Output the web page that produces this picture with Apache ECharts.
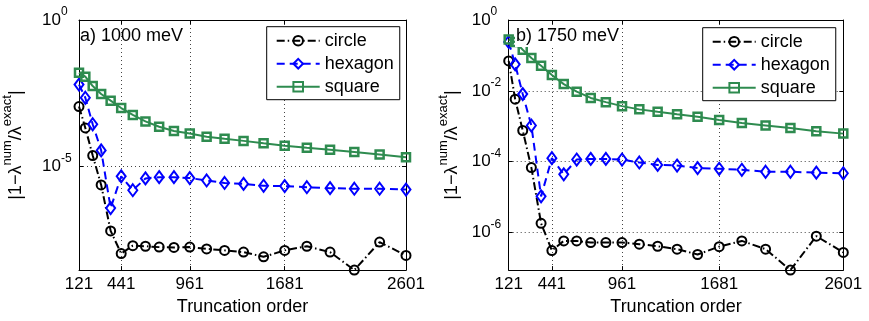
<!DOCTYPE html>
<html><head><meta charset="utf-8">
<script src="https://cdn.jsdelivr.net/npm/echarts@6/dist/echarts.min.js"></script>
<style>html,body{margin:0;padding:0;background:#fff}#c{width:869px;height:321px}</style>
</head><body><div id="c"></div>
<script>
// ---- data ----
const truncationOrder = [121,169,225,289,361,441,529,625,729,841,961,1089,1225,1369,1521,1681,1849,2025,2209,2401,2601];
const xTicks = [121,441,961,1681,2601];
const yTicksA = [1e-5, 1];
const yTicksB = [1e-6, 1e-4, 1e-2, 1];
const seriesNames = ['circle','hexagon','square'];
const titleA = 'a) 1000 meV';
const titleB = 'b) 1750 meV';
const xName = 'Truncation order';

// panel a) 1000 meV
const circleA  = [1.12e-3,2.1e-4,2.4e-5,2.4e-6,6.5e-8,1.1e-8,2.04e-8,1.95e-8,1.82e-8,1.78e-8,1.82e-8,1.58e-8,1.41e-8,1.23e-8,8.5e-9,1.41e-8,1.95e-8,1.23e-8,3.0e-9,2.7e-8,9.5e-9];
const hexagonA = [6.3e-3,2.24e-3,2.8e-4,3.6e-5,3.9e-7,4.7e-6,1.58e-6,4.0e-6,4.4e-6,4.4e-6,4.1e-6,3.4e-6,2.8e-6,2.6e-6,2.24e-6,2.19e-6,2.0e-6,1.86e-6,1.78e-6,1.78e-6,1.66e-6];
const squareA  = [1.58e-2,1.17e-2,5.6e-3,3.0e-3,1.78e-3,1.0e-3,5.8e-4,3.5e-4,2.3e-4,1.66e-4,1.35e-4,1.05e-4,8.9e-5,7.6e-5,6.3e-5,5.2e-5,4.4e-5,3.8e-5,3.2e-5,2.6e-5,2.1e-5];
// panel b) 1750 meV
const circleB  = [7.0e-2,5.8e-3,7.6e-4,6.8e-5,1.82e-6,3.1e-7,5.8e-7,5.8e-7,5.2e-7,5.2e-7,5.2e-7,4.7e-7,4.1e-7,3.4e-7,2.4e-7,4.0e-7,5.8e-7,3.4e-7,8.7e-8,7.9e-7,2.75e-7];
const hexagonB = [2.4e-1,5.6e-2,8.1e-3,1.05e-3,1.05e-5,1.26e-4,4.4e-5,1.15e-4,1.2e-4,1.2e-4,1.15e-4,9.5e-5,8.1e-5,7.8e-5,6.6e-5,6.3e-5,5.9e-5,5.2e-5,5.2e-5,4.9e-5,4.7e-5];
const squareB  = [2.8e-1,2.4e-1,1.45e-1,8.5e-2,5.1e-2,2.8e-2,1.55e-2,9.5e-3,6.3e-3,4.8e-3,3.7e-3,3.0e-3,2.57e-3,2.19e-3,1.86e-3,1.51e-3,1.23e-3,1.05e-3,8.9e-4,7.2e-4,6.2e-4];

// ---- chart ----
const FONT = 'Liberation Sans, Arial, Helvetica, sans-serif';
const minA = Math.min(...circleA, ...hexagonA, ...squareA);
const minB = Math.min(...circleB, ...hexagonB, ...squareB);

const styles = [
  { color:'#000000', type:[8,3,1.5,3], symbol:'circle', size:9, bw:2 },
  { color:'#0000ff', type:[8,5], symbol:'diamond', size:[9,12], bw:2 },
  { color:'#2e8b4f', type:'solid', symbol:'rect', size:8, bw:2.5 }
];

const gridLine = { show:true, lineStyle:{ color:'#444', width:1, type:[1,3] } };
const axLine = { show:true, onZero:false, lineStyle:{ color:'#000', width:1 } };

function xAxes(gi){
  return [
    { gridIndex:gi, type:'value', min:121, max:2601, position:'bottom',
      axisLine:axLine,
      axisTick:{ show:true, inside:true, length:4, customValues:xTicks, lineStyle:{color:'#000'} },
      axisLabel:{ customValues:xTicks, fontSize:17, color:'#000', margin:6, fontFamily:FONT,
        formatter:function(v){ return String(Math.round(v)); } },
      splitLine:gridLine,
      name:xName, nameLocation:'middle', nameGap:26,
      nameTextStyle:{ fontSize:18, color:'#000', fontFamily:FONT } },
    { gridIndex:gi, type:'value', min:121, max:2601, position:'top',
      axisLine:axLine,
      axisTick:{ show:true, inside:true, length:4, customValues:xTicks, lineStyle:{color:'#000'} },
      axisLabel:{ show:false }, splitLine:{show:false} }
  ];
}
const tickRich = {
  b:{ fontSize:17, lineHeight:28, color:'#000', fontFamily:FONT },
  s:{ fontSize:12, lineHeight:12, verticalAlign:'top', color:'#000', fontFamily:FONT }
};
function yAxes(gi, mn, ticks, nameGap){
  return [
    { gridIndex:gi, type:'log', logBase:10, min:mn, max:1, position:'left',
      axisLine:axLine,
      axisTick:{ show:true, inside:true, length:4, customValues:ticks, lineStyle:{color:'#000'} },
      axisLabel:{ customValues:ticks, margin:37, align:'left',
        formatter:function(v){ return '{b|10}{s|' + Math.round(Math.log10(v)) + '}'; },
        rich:tickRich },
      minorTick:{show:false},
      splitLine:gridLine,
      name:'{m||1−λ}{u|num}{m|/λ}{u|exact}{m||}',
      nameLocation:'middle', nameRotate:90, nameGap:nameGap,
      nameTextStyle:{ rich:{
        m:{ fontSize:18, lineHeight:30, color:'#000', fontFamily:FONT },
        u:{ fontSize:13, lineHeight:13, verticalAlign:'top', color:'#000', fontFamily:FONT } } } },
    { gridIndex:gi, type:'log', logBase:10, min:mn, max:1, position:'right',
      axisLine:axLine,
      axisTick:{ show:true, inside:true, length:4, customValues:ticks, lineStyle:{color:'#000'} },
      axisLabel:{ show:false }, splitLine:{show:false} }
  ];
}

function mkSeries(gi, arrs){
  return arrs.map((arr, k) => ({
    name: seriesNames[k], type:'line',
    xAxisIndex: gi*2, yAxisIndex: gi*2,
    data: truncationOrder.map((x,i) => [x, arr[i]]),
    symbol: styles[k].symbol, symbolSize: styles[k].size,
    showAllSymbol:true, clip:false, animation:false,
    lineStyle:{ color:styles[k].color, width:2, type:styles[k].type },
    itemStyle:{ color:'none', borderColor:styles[k].color, borderWidth:styles[k].bw },
    emphasis:{ disabled:true },
    z: 2 + k
  }));
}

function mkLegend(left, top){
  return {
    left:left, top:top, orient:'vertical', data:seriesNames,
    selectedMode:false, itemWidth:43, itemHeight:12, itemGap:5,
    padding:[5,6,4,9], borderColor:'#000', borderWidth:1, backgroundColor:'#fff',
    textStyle:{ fontSize:18, color:'#000', fontFamily:FONT }
  };
}

const chart = echarts.init(document.getElementById('c'), null, {renderer:'canvas'});
chart.setOption({
  animation:false,
  backgroundColor:'#fff',
  textStyle:{ fontFamily:FONT },
  title:[
    { text:titleA, left:80, top:27, padding:0,
      textStyle:{ fontSize:18, fontWeight:'normal', color:'#000', fontFamily:FONT } },
    { text:titleB, left:515, top:27, padding:[0,1,2,1], backgroundColor:'#fff',
      textStyle:{ fontSize:18, fontWeight:'normal', color:'#000', fontFamily:FONT } }
  ],
  legend:[ mkLegend(266.7, 26.7), mkLegend(702.7, 27.7) ],
  grid:[
    { left:72.3, top:20, width:333.7, height:256.7 },
    { left:508.7, top:20, width:334.6, height:256.7 }
  ],
  xAxis:[ ...xAxes(0), ...xAxes(1) ],
  yAxis:[ ...yAxes(0, minA, yTicksA, 48), ...yAxes(1, minB, yTicksB, 42) ],
  series:[ ...mkSeries(0, [circleA, hexagonA, squareA]), ...mkSeries(1, [circleB, hexagonB, squareB]) ]
});
</script>
</body></html>
